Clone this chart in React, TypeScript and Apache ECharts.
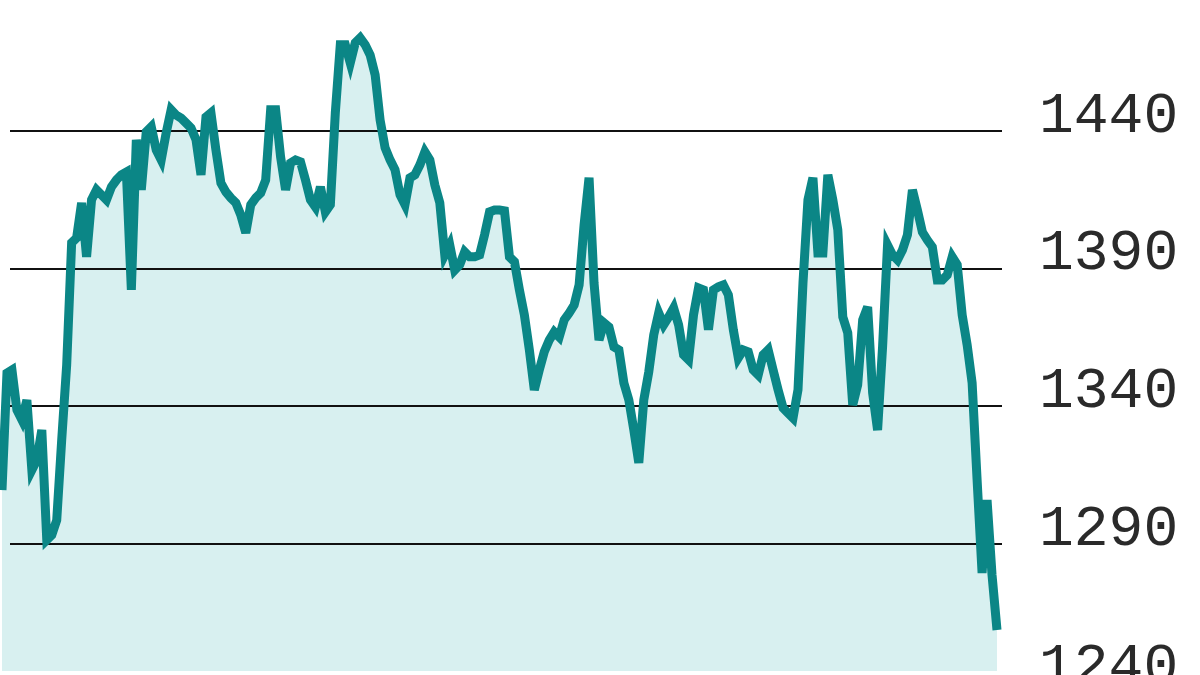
import React, { useEffect, useRef } from "react";
import * as echarts from "echarts";

// Index price, sampled at regular intervals
const values: number[] = [
  1309.5, 1352.0, 1353.1, 1338.6, 1335.0, 1342.2, 1316.8, 1320.4, 1331.3, 1291.4,
  1293.2, 1298.6, 1327.7, 1354.9, 1399.3, 1401.1, 1413.8, 1394.2, 1414.9, 1418.5,
  1416.7, 1414.9, 1419.6, 1422.1, 1424.0, 1425.0, 1382.2, 1436.7, 1418.5, 1439.6,
  1441.4, 1433.0, 1429.4, 1439.2, 1447.6, 1445.7, 1444.6, 1442.8, 1441.0, 1436.7,
  1424.0, 1445.0, 1446.5, 1433.0, 1421.0, 1417.8, 1415.6, 1413.8, 1409.4, 1402.9,
  1413.1, 1415.6, 1417.4, 1422.1, 1447.6, 1447.6, 1430.5, 1418.5, 1428.3, 1429.4,
  1428.7, 1422.1, 1414.9, 1412.3, 1419.6, 1410.5, 1413.1, 1446.5, 1471.2, 1471.2,
  1464.6, 1471.9, 1473.7, 1471.2, 1467.5, 1460.3, 1443.9, 1433.8, 1429.4, 1425.8,
  1416.7, 1413.1, 1422.9, 1424.0, 1427.6, 1432.3, 1429.4, 1420.3, 1413.8, 1394.9,
  1398.5, 1389.4, 1391.3, 1396.0, 1394.2, 1394.2, 1394.9, 1402.2, 1410.5, 1411.2,
  1411.2, 1410.9, 1394.2, 1392.4, 1382.2, 1373.1, 1360.4, 1345.9, 1353.1, 1359.7,
  1364.0, 1366.9, 1365.1, 1371.3, 1373.8, 1376.7, 1384.0, 1405.8, 1422.9, 1384.7,
  1364.0, 1370.2, 1368.7, 1361.5, 1360.4, 1348.4, 1342.2, 1331.3, 1319.4, 1342.2,
  1352.4, 1365.8, 1373.8, 1369.5, 1372.4, 1375.6, 1369.5, 1358.6, 1356.8, 1373.1,
  1382.9, 1382.2, 1367.7, 1382.2, 1383.3, 1384.0, 1380.4, 1367.7, 1357.5, 1360.4,
  1359.7, 1353.1, 1351.3, 1358.6, 1360.4, 1353.1, 1345.9, 1339.3, 1337.5, 1335.7,
  1345.9, 1384.7, 1414.9, 1422.9, 1395.6, 1395.6, 1424.0, 1414.9, 1404.0, 1372.4,
  1366.6, 1340.4, 1347.7, 1371.3, 1376.0, 1344.8, 1331.3, 1361.5, 1398.5, 1394.9,
  1393.1, 1396.7, 1402.2, 1418.5, 1411.2, 1403.2, 1400.3, 1397.8, 1385.8, 1385.8,
  1387.6, 1394.2, 1391.3, 1373.1, 1362.2, 1348.4, 1313.2, 1279.4, 1305.9, 1278.7,
  1258.7,
];

const categories: string[] = values.map((_, i) => `T${i + 1}`);

const yMin = 1240;
const yMax = 1490;
const yInterval = 50;
const areaBase = 1243.8;

export default function App() {
  const ref = useRef<HTMLDivElement>(null);

  useEffect(() => {
    if (!ref.current) return;
    const chart = echarts.init(ref.current, undefined, { renderer: "svg" });
    chart.setOption({
      animation: false,
      backgroundColor: "#ffffff",
      grid: [
        { left: 2, right: 203, top: -7, bottom: -6.5, containLabel: false, outerBoundsMode: "none" },
        { left: 10, right: 198, top: -7, bottom: -6.5, containLabel: false, outerBoundsMode: "none" },
      ],
      xAxis: [
        { type: "category", gridIndex: 0, data: categories, boundaryGap: false, show: false },
        { type: "category", gridIndex: 1, data: categories, boundaryGap: false, show: false },
      ],
      yAxis: [
        { type: "value", gridIndex: 0, min: yMin, max: yMax, interval: yInterval, show: false },
        {
          type: "value",
          gridIndex: 1,
          min: yMin,
          max: yMax,
          interval: yInterval,
          position: "right",
          z: 5,
          axisLine: { show: false },
          axisTick: { show: false },
          splitLine: { show: true, lineStyle: { color: "#111111", width: 2 } },
          axisLabel: {
            show: true,
            margin: 37,
            color: "#2a2a2a",
            fontFamily: "'Courier New', 'Liberation Mono', monospace",
            fontSize: 58,
            verticalAlign: "bottom",
            lineHeight: 29,
            formatter: (v: number) => String(v),
          },
        },
      ],
      series: [
        {
          type: "line",
          xAxisIndex: 0,
          yAxisIndex: 0,
          data: values,
          symbol: "none",
          clip: false,
          z: 1,
          lineStyle: { width: 0, opacity: 0 },
          areaStyle: { color: "#d8f0f0", opacity: 1, origin: areaBase },
        },
        {
          type: "line",
          xAxisIndex: 0,
          yAxisIndex: 0,
          data: values,
          symbol: "none",
          clip: false,
          z: 10,
          lineStyle: { color: "#0b8686", width: 9, join: "miter" },
        },
      ],
    });
    return () => chart.dispose();
  }, []);

  return (
    <div
      ref={ref}
      style={{ position: "fixed", left: 0, top: 0, width: 1200, height: 675, background: "#fff" }}
    />
  );
}
